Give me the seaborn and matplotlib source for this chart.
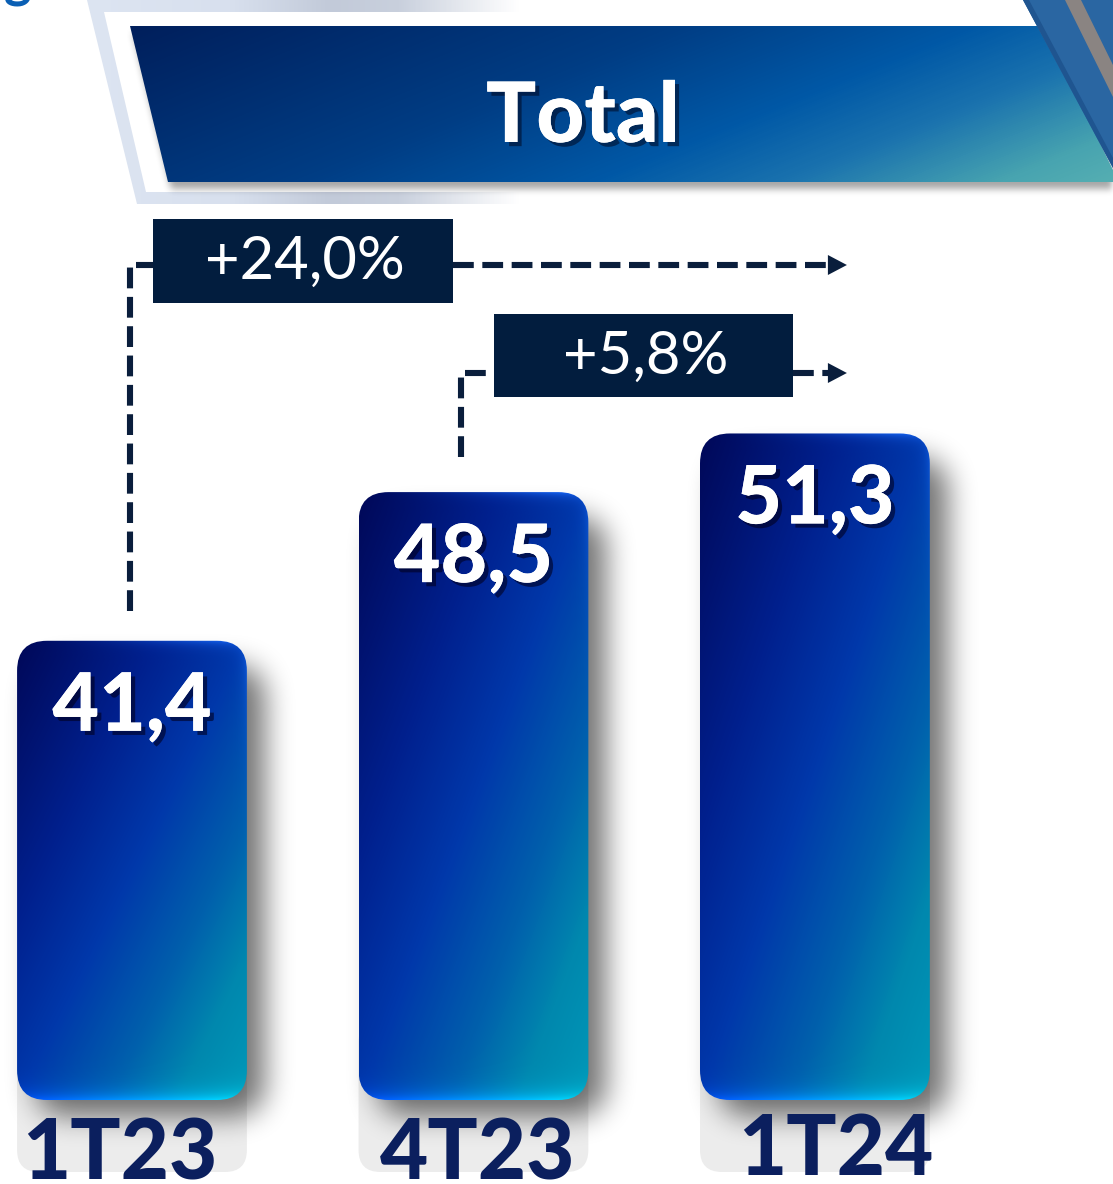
import numpy as np
import pandas as pd
import matplotlib
matplotlib.use("Agg")
import matplotlib.pyplot as plt
import seaborn as sns
from matplotlib.patches import FancyBboxPatch, Polygon, Rectangle
from matplotlib.colors import LinearSegmentedColormap, to_rgb
from matplotlib.path import Path
import matplotlib.patheffects as pe

# ---------------- data ----------------
periods = ["1T23", "4T23", "1T24"]
values = [41.4, 48.5, 51.3]
value_labels = ["41,4", "48,5", "51,3"]
growth_labels = ["+24,0%", "+5,8%"]
title = "Total"

# ---------------- setup ----------------
W, H = 1113, 1184
sns.set_theme(style="white")
plt.rcParams['font.family'] = ['Lato', 'DejaVu Sans']

fig = plt.figure(figsize=(W / 100, H / 100), dpi=100)
fig.patch.set_facecolor('white')

BASE_PX = 1100
ax = fig.add_axes([0, (H - BASE_PX) / H, 1, BASE_PX / H])
df = pd.DataFrame({"period": periods, "value": values})
sns.barplot(data=df, x="period", y="value", ax=ax, width=0.673, color="#0a3aa8")
ax.set_xlim(-0.3865, 2.873)
ax.set_ylim(19.47, 72.0)
ax.axis('off')
ax.patch.set_alpha(0)

ov = fig.add_axes([0, 0, 1, 1], zorder=5)
ov.patch.set_alpha(0)
ov.axis('off')
ov.set_xlim(0, W)
ov.set_ylim(H, 0)


def to_px(x, y):
    dx, dy = ax.transData.transform((x, y))
    return dx, H - dy


bars_px = []
for p in ax.patches:
    x0, x1 = p.get_x(), p.get_x() + p.get_width()
    px0, ptop = to_px(x0, p.get_height())
    px1, pbot = to_px(x1, ax.get_ylim()[0])
    bars_px.append((px0, px1, ptop, pbot))
    p.set_visible(False)

tick_px = [to_px(t, ax.get_ylim()[0])[0] for t in ax.get_xticks()]

# ---------------- helpers ----------------
Xg, Yg = np.meshgrid(np.arange(W) + 0.5, np.arange(H) + 0.5)


def rrect_mask(x0, y0, x1, y1, r):
    cx = np.clip(Xg, x0 + r, x1 - r)
    cy = np.clip(Yg, y0 + r, y1 - r)
    d = np.hypot(Xg - cx, Yg - cy)
    return ((Xg >= x0) & (Xg <= x1) & (Yg >= y0) & (Yg <= y1) & (d <= r)).astype(float)


def box1d(a, r, axis):
    a = np.moveaxis(a, axis, 0)
    padw = [(r + 1, r)] + [(0, 0)] * (a.ndim - 1)
    c = np.cumsum(np.pad(a, padw, mode='constant'), axis=0)
    out = (c[2 * r + 1:] - c[:-2 * r - 1]) / (2 * r + 1)
    return np.moveaxis(out, 0, axis)


def blur(a, r):
    for _ in range(3):
        a = box1d(a, r, 0)
        a = box1d(a, r, 1)
    return a


# ---------------- header frame ----------------
frame_poly = [(87, 0), (520, 0), (520, 204), (137, 204)]
frame_cmap = LinearSegmentedColormap.from_list(
    'fr', [(0, '#dde5f2'), ((230 - 80) / 440, '#d8e0ee'), ((330 - 80) / 440, '#c2cad9'),
           ((400 - 80) / 440, '#c9d0dd'), (1, '#ffffff')])
fimg = frame_cmap(np.linspace(0, 1, 441))[None, :, :].repeat(4, axis=0)
fclip = Polygon(frame_poly, closed=True, fc='none', ec='none', transform=ov.transData)
ov.add_patch(fclip)
im = ov.imshow(fimg, extent=(80, 520, 206, 0), origin='upper', aspect='auto', zorder=1)
im.set_clip_path(fclip)
ov.add_patch(Polygon([(104, 12), (W, 12), (W, 192), (146, 192)], closed=True,
                     fc='white', ec='none', zorder=1.5))

# ---------------- banner ----------------
banner_poly = [(130, 26), (1043, 26), (1113, 170), (1113, 182), (168, 182)]
bx0, bx1, by0, by1 = 130, 1113, 26, 182
u = np.linspace(0, 1, bx1 - bx0)[None, :]
v = np.linspace(0, 1, by1 - by0)[:, None]
ban_cmap = LinearSegmentedColormap.from_list(
    'ban', [(0, '#001f5c'), (0.4, '#003d84'), (0.62, '#0058a6'), (0.76, '#1a72ae'),
            (0.92, '#48a4b0'), (1, '#55aeb2')])
bimg = ban_cmap(np.clip(0.72 * u + 0.28 * v, 0, 1))
bclip = Polygon(banner_poly, closed=True, fc='none', ec='none', transform=ov.transData)
ov.add_patch(bclip)
im = ov.imshow(bimg, extent=(bx0, bx1, by1, by0), origin='upper', aspect='auto', zorder=4)
im.set_clip_path(bclip)

# top right stripes
ov.add_patch(Polygon([(1023, 0), (W, 0), (W, 168)], closed=True, fc='#2a66a2', ec='none', zorder=4.5))
ov.add_patch(Polygon([(1023, 0), (1029, 0), (W, 158), (W, 168)], closed=True, fc='#1f5590',
                     ec='none', zorder=4.6))
ov.add_patch(Polygon([(1065, 0), (1081, 0), (W, 65), (W, 97)], closed=True, fc='#8a8482',
                     ec='none', zorder=4.7))

ov.text(583, 142, title, ha='center', va='baseline', color='white', fontsize=60,
        fontweight='black', zorder=6,
        path_effects=[pe.withSimplePatchShadow(offset=(3, -3), shadow_rgbFace='#000820', alpha=0.55),
                      pe.Normal()])

# clipped word from above (only the descender visible)
ov.text(18, -3, "g", ha='center', va='baseline', color='#0a5fb4', fontsize=38,
        fontweight='bold', zorder=6)

# ---------------- shadows ----------------
sh = np.zeros((H, W))
for (x0, x1, yt, yb) in bars_px:
    sh = np.maximum(sh, rrect_mask(x0 + 18, yt + 24, x1 + 18, yb + 16, 30))
sh = blur(sh, 13)
bpath = Path([(x + 3, y + 7) for x, y in banner_poly] + [(banner_poly[0][0] + 3, banner_poly[0][1] + 7)],
             closed=True)
bm = bpath.contains_points(np.column_stack([Xg.ravel(), Yg.ravel()])).reshape(H, W).astype(float)
bm = blur(bm, 3)
alpha = np.clip(0.55 * sh + 0.35 * bm, 0, 1)
shimg = np.zeros((H, W, 4))
shimg[..., 3] = alpha

# ---------------- gray panels ----------------
for (x0, x1, yt, yb) in bars_px:
    ov.add_patch(FancyBboxPatch((x0, yb - 80), x1 - x0, 1172 - (yb - 80),
                                boxstyle="round,pad=0,rounding_size=22",
                                fc='#ececec', ec='none', zorder=2))

ov.imshow(shimg, extent=(0, W, H, 0), origin='upper', aspect='auto', zorder=3,
          interpolation='bilinear')

# ---------------- gradient bars ----------------
bar_cmap = LinearSegmentedColormap.from_list(
    'bar', [(0, '#000858'), (0.3, '#00208e'), (0.5, '#0038aa'), (0.7, '#0060ac'),
            (0.85, '#0088ae'), (1, '#0098b8')])


def bar_image(w, h):
    w, h = int(round(w)), int(round(h))
    uu = np.linspace(0, 1, w)[None, :]
    vv = np.linspace(0, 1, h)[:, None]
    rgb = bar_cmap(np.clip(0.5 * uu + 0.5 * vv, 0, 1))[..., :3]
    db = (h - 1) - np.arange(h)[:, None]
    g = np.exp(-db / 8.0)[..., None]
    edge = (1 - uu)[..., None] * np.array(to_rgb('#0050ff')) + uu[..., None] * np.array(to_rgb('#00e4ff'))
    rgb = rgb * (1 - g) + edge * g
    dt = np.arange(h)[:, None]
    gt = (np.exp(-dt / 5.0) * uu ** 2)[..., None]
    rgb = rgb * (1 - gt) + np.array(to_rgb('#1a6cff')) * gt
    dr = (w - 1 - np.arange(w))[None, :]
    gr = (np.exp(-dr / 5.0) * np.exp(-dt / 90.0) * 0.6)[..., None]
    rgb = rgb * (1 - gr) + np.array(to_rgb('#1a6cff')) * gr
    return np.clip(rgb, 0, 1)


for i, (x0, x1, yt, yb) in enumerate(bars_px):
    clip = FancyBboxPatch((x0, yt), x1 - x0, yb - yt, boxstyle="round,pad=0,rounding_size=30",
                          fc='none', ec='none', transform=ov.transData)
    ov.add_patch(clip)
    im = ov.imshow(bar_image(x1 - x0, yb - yt), extent=(x0, x1, yb, yt), origin='upper',
                   aspect='auto', zorder=4, interpolation='bilinear')
    im.set_clip_path(clip)
    ov.text((x0 + x1) / 2, yt + 90, value_labels[i], ha='center', va='baseline', color='white',
            fontsize=58, fontweight='black', zorder=6,
            path_effects=[pe.withSimplePatchShadow(offset=(3, -3), shadow_rgbFace='#000020', alpha=0.6),
                          pe.Normal()])

# x labels
lab_dx = [-12, 4, 21]
lab_y = [1179, 1179, 1175]
for i, lab in enumerate(periods):
    ov.text(tick_px[i] + lab_dx[i], lab_y[i], lab, ha='center', va='baseline', color='#0b1f5e',
            fontsize=60, fontweight='black', zorder=7)

# ---------------- growth annotations ----------------
navy = '#021d3e'
dash_col = '#0a1e3c'
ls = (0, (3.4, 1.4))
lw = 4.4
tip_x = (bars_px[2][0] + bars_px[2][1]) / 2 + 32

c0 = (bars_px[0][0] + bars_px[0][1]) / 2 - 2
c1 = (bars_px[1][0] + bars_px[1][1]) / 2 - 12
rows = [
    dict(x=c0, y0=bars_px[0][2] - 30, y=265, box=(153, 219, 453, 303), lab=growth_labels[0]),
    dict(x=c1, y0=bars_px[1][2] - 35, y=373, box=(494, 314, 793, 397), lab=growth_labels[1]),
]
for r in rows:
    bxa, bya, bxb, byb = r['box']
    ov.plot([r['x'], r['x'], bxa], [r['y0'], r['y'], r['y']], color=dash_col, lw=lw, ls=ls,
            zorder=5, solid_capstyle='butt', dash_capstyle='butt')
    ov.plot([bxb, tip_x - 17], [r['y'], r['y']], color=dash_col, lw=lw, ls=ls, zorder=5,
            dash_capstyle='butt')
    ov.add_patch(Polygon([(tip_x - 19, r['y'] - 10), (tip_x, r['y']), (tip_x - 19, r['y'] + 10)],
                         closed=True, fc=dash_col, ec='none', zorder=5))
    ov.add_patch(Rectangle((bxa, bya), bxb - bxa, byb - bya, fc=navy, ec='none', zorder=6))
    ov.text((bxa + bxb) / 2 + 2, bya + 60, r['lab'], ha='center', va='baseline', color='white',
            fontsize=43, fontweight='normal', zorder=7)

ov.set_xlim(0, W)
ov.set_ylim(H, 0)
fig.savefig('out.png', dpi=100, facecolor='white')
